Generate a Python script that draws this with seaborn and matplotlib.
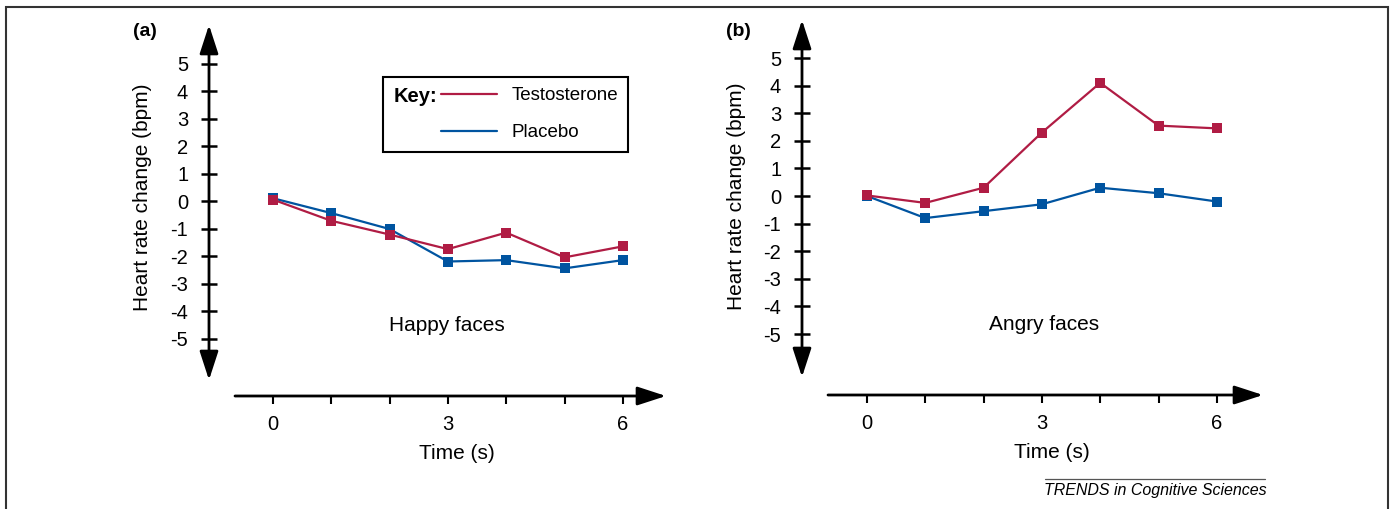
import seaborn as sns
import matplotlib.pyplot as plt
import pandas as pd
from matplotlib.lines import Line2D
from matplotlib.patches import Rectangle
from matplotlib.offsetbox import HPacker

# values
times = [0, 1, 2, 3, 4, 5, 6]
happy_testosterone = [0.05, -0.72, -1.22, -1.75, -1.15, -2.05, -1.65]
happy_placebo = [0.1, -0.44, -1.02, -2.2, -2.15, -2.45, -2.15]
angry_testosterone = [0.02, -0.25, 0.3, 2.3, 4.1, 2.55, 2.45]
angry_placebo = [0.0, -0.8, -0.55, -0.3, 0.3, 0.1, -0.2]

treatments = ["Testosterone", "Placebo"]
conditions = ["Happy faces", "Angry faces"]
panel_tags = ["(a)", "(b)"]
y_ticks = list(range(-5, 6))
x_tick_labels = ["0", "", "", "3", "", "", "6"]

palette = {"Testosterone": "#B01C44", "Placebo": "#0054A0"}

rows = []
for cond, testo, plac in [("Happy faces", happy_testosterone, happy_placebo),
                          ("Angry faces", angry_testosterone, angry_placebo)]:
    for t, a, b in zip(times, testo, plac):
        rows.append({"condition": cond, "time": t, "change": a, "treatment": "Testosterone"})
        rows.append({"condition": cond, "time": t, "change": b, "treatment": "Placebo"})
df = pd.DataFrame(rows)

sns.set_theme(style="white")
plt.rcParams["font.family"] = ["Liberation Sans", "DejaVu Sans"]
plt.rcParams["axes.unicode_minus"] = False
plt.rcParams["text.color"] = "black"
plt.rcParams["axes.labelcolor"] = "black"

W, H = 1394, 509
fig = plt.figure(figsize=(W / 100, H / 100), dpi=100)

# pixel geometry of each panel: origin of data (x0, y0) and px per unit
layout = [
    dict(x0=273, xs=58.3, y0=201, ys=27.5, left=110, right=705, top=10, bottom=480,
         yaxis_px=209, xaxis_py=396, xstart=235, xtip=666, ytop=25, ybot=380,
         tag=(145, 31), ylab=(142, 197), xlab=(457, 453), cond=(447, 325)),
    dict(x0=867, xs=58.3, y0=196, ys=27.6, left=705, right=1300, top=10, bottom=480,
         yaxis_px=802, xaxis_py=395, xstart=828, xtip=1263, ytop=20, ybot=377,
         tag=(738, 31), ylab=(736, 196), xlab=(1052, 453), cond=(1044, 325)),
]

for i, (cond, g) in enumerate(zip(conditions, layout)):
    ax = fig.add_axes([g["left"] / W, 1 - g["bottom"] / H,
                       (g["right"] - g["left"]) / W, (g["bottom"] - g["top"]) / H])
    ax.patch.set_visible(False)

    def dx(px, g=g):
        return (px - g["x0"]) / g["xs"]

    def dy(py, g=g):
        return (g["y0"] - py) / g["ys"]

    sns.lineplot(data=df[df.condition == cond], x="time", y="change", hue="treatment",
                 hue_order=["Placebo", "Testosterone"], palette=palette, marker="s",
                 markersize=7.5, markeredgewidth=0, linewidth=1.6, legend=False, ax=ax)

    ax.set_xlim(dx(g["left"]), dx(g["right"]))
    ax.set_ylim(dy(g["bottom"]), dy(g["top"]))

    for s in ax.spines.values():
        s.set_visible(False)
    ax.spines["left"].set_position(("data", dx(g["yaxis_px"])))
    ax.spines["bottom"].set_position(("data", dy(g["xaxis_py"])))

    ax.set_yticks(y_ticks)
    ax.set_xticks(times)
    ax.set_xticklabels(x_tick_labels)
    ax.tick_params(axis="y", direction="inout", length=11, width=1.8, pad=9.5,
                   labelsize=14.5, color="black", labelcolor="black", left=True)
    ax.tick_params(axis="x", direction="out", length=6, width=1.5, pad=7.5,
                   labelsize=14.5, color="black", labelcolor="black", bottom=True)

    # axis arrows
    ax.annotate("", xy=(dx(g["yaxis_px"]), dy(g["ytop"])),
                xytext=(dx(g["yaxis_px"]), dy(g["ybot"])),
                arrowprops=dict(arrowstyle="<|-|>,head_length=0.8,head_width=0.26",
                                color="black", lw=2, mutation_scale=22,
                                shrinkA=0, shrinkB=0))
    ax.annotate("", xy=(dx(g["xtip"]), dy(g["xaxis_py"])),
                xytext=(dx(g["xstart"]), dy(g["xaxis_py"])),
                arrowprops=dict(arrowstyle="-|>,head_length=0.8,head_width=0.26",
                                color="black", lw=2, mutation_scale=22,
                                shrinkA=0, shrinkB=0))

    ax.set_ylabel("Heart rate change (bpm)", fontsize=15, color="black")
    ax.yaxis.set_label_coords(dx(g["ylab"][0]), dy(g["ylab"][1]), transform=ax.transData)
    ax.set_xlabel("Time (s)", fontsize=15, color="black")
    ax.xaxis.set_label_coords(dx(g["xlab"][0]), dy(g["xlab"][1]), transform=ax.transData)
    ax.xaxis.label.set_va("center")
    ax.yaxis.label.set_va("center")

    ax.text(dx(g["cond"][0]), dy(g["cond"][1]), cond, fontsize=15,
            ha="center", va="center")
    ax.text(dx(g["tag"][0]), dy(g["tag"][1]), panel_tags[i], fontsize=14,
            fontweight="bold", ha="center", va="center")

    if i == 0:
        handles = [Line2D([], [], color=palette[t], lw=1.6) for t in treatments]
        leg = ax.legend(handles, treatments, title="Key:", loc="upper left",
                        bbox_to_anchor=(383 / W, 1 - 77 / H), bbox_transform=fig.transFigure,
                        borderaxespad=0, fontsize=13.5,
                        title_fontproperties={"weight": "bold", "size": 14.5},
                        handlelength=3.0, handletextpad=0.75, labelspacing=1.05,
                        borderpad=0.55, fancybox=False, edgecolor="black", framealpha=1)
        leg.get_frame().set_linewidth(1.5)
        # put the "Key:" title beside the entries instead of above
        leg._legend_box.__class__ = HPacker
        leg._legend_box.align = "top"
        leg._legend_box.sep = 3

# frame around the figure
fig.add_artist(Rectangle((6 / W, -0.1), 1382 / W, 1.1 - 7 / H, transform=fig.transFigure,
                         fill=False, edgecolor="#333333", lw=1.5))
fig.add_artist(Line2D([1045 / W, 1265 / W], [1 - 479 / H] * 2, transform=fig.transFigure,
                      color="#555555", lw=0.9))
fig.text(1155 / W, 1 - 490 / H, "TRENDS in Cognitive Sciences", fontsize=11.5,
         style="italic", ha="center", va="center")

fig.savefig("out.png", dpi=100)
